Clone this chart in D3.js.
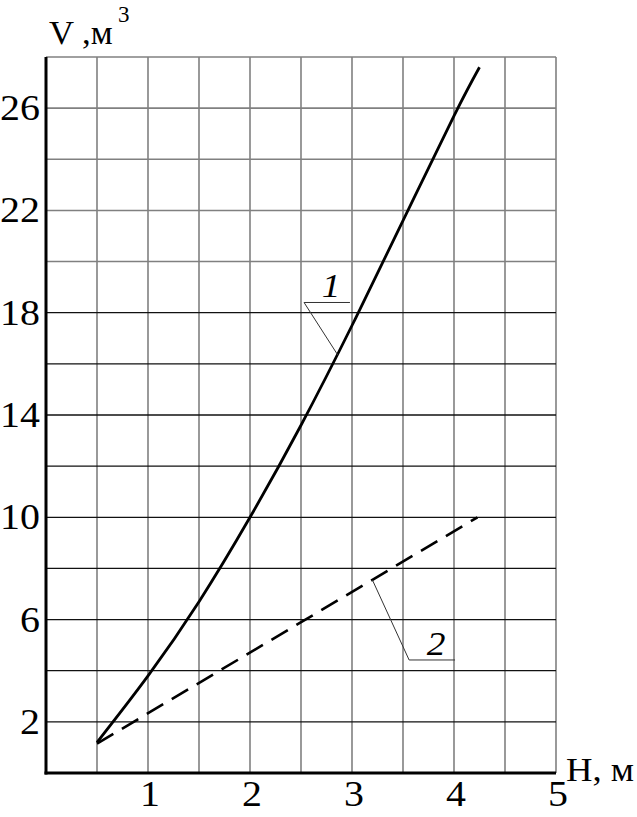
<!DOCTYPE html>
<html><head><meta charset="utf-8">
<script src="https://cdn.jsdelivr.net/npm/d3@7/dist/d3.min.js"></script>
<style>body{margin:0;background:#fff}svg{display:block}</style>
</head><body>
<svg id="c" width="637" height="817"></svg>
<script>
// Curve 1 (solid)
const h1 = [0.5, 1.0, 1.5, 2.0, 2.5, 3.0, 3.5, 4.0, 4.25];
const v1 = [1.2, 3.8, 6.7, 10.0, 13.6, 17.5, 21.6, 25.7, 27.6];
// Line 2 (dashed)
const h2 = [0.5, 4.23];
const v2 = [1.15, 10.0];
// Ticks
const xTicks = [1, 2, 3, 4, 5];
const yTicks = [2, 6, 10, 14, 18, 22, 26];
const xGrid = [0.5, 1, 1.5, 2, 2.5, 3, 3.5, 4, 4.5, 5];
const yGrid = [2, 4, 6, 8, 10, 12, 14, 16, 18, 20, 22, 24, 26, 28];
// Callouts: [label, anchorH, anchorV, elbowH, elbowV, endH]
const callouts = [
  ["1", 2.86, 16.35, 2.53, 18.4, 2.98],
  ["2", 3.2, 7.55, 3.56, 4.42, 4.01]
];

const svg = d3.select("#c");
const x = d3.scaleLinear().domain([0, 5]).range([46, 556]);
const y = d3.scaleLinear().domain([0, 28]).range([773, 57]);
const font = "'Liberation Serif','Times New Roman',serif";
const sx = 1.14;

// grid
svg.append("g").selectAll("line").data(xGrid).join("line")
  .attr("x1", d => x(d)).attr("x2", d => x(d))
  .attr("y1", y(0)).attr("y2", y(28))
  .attr("stroke", "#808080").attr("stroke-width", 1.6);
svg.append("g").selectAll("line").data(yGrid).join("line")
  .attr("x1", x(0)).attr("x2", x(5))
  .attr("y1", d => y(d)).attr("y2", d => y(d))
  .attr("stroke", d => d >= 20 ? "#808080" : "#111")
  .attr("stroke-width", d => d >= 20 ? 1.6 : 1.3);

// axes
svg.append("line").attr("x1", x(0)).attr("x2", x(0)).attr("y1", y(0) + 1.5).attr("y2", y(28))
  .attr("stroke", "#000").attr("stroke-width", 3);
svg.append("line").attr("x1", x(0) - 1.5).attr("x2", x(5)).attr("y1", y(0)).attr("y2", y(0))
  .attr("stroke", "#000").attr("stroke-width", 3);

// tick labels
svg.append("g").selectAll("text").data(yTicks).join("text")
  .attr("transform", d => `translate(${x(0) - 6},${y(d) + 12}) scale(${sx},1)`)
  .attr("text-anchor", "end").attr("font-family", font).attr("font-size", 35)
  .text(d => d);
svg.append("g").selectAll("text").data(xTicks).join("text")
  .attr("transform", d => `translate(${x(d) + 2},806) scale(${sx},1)`)
  .attr("text-anchor", "middle").attr("font-family", font).attr("font-size", 35)
  .text(d => d);

// axis titles
svg.append("text").attr("transform", `translate(49,44) scale(1.02,1)`).attr("font-family", font).attr("font-size", 34).text("V ,м");
svg.append("text").attr("x", 118).attr("y", 22).attr("font-family", font).attr("font-size", 23).text("3");
svg.append("text").attr("transform", `translate(566,781) scale(1.08,1)`).attr("font-family", font).attr("font-size", 34).text("H, м");

// curves
svg.append("path").datum(h1.map((h, i) => [h, v1[i]]))
  .attr("d", d3.line().x(d => x(d[0])).y(d => y(d[1])).curve(d3.curveNatural))
  .attr("fill", "none").attr("stroke", "#000").attr("stroke-width", 2.8);
svg.append("path").datum(h2.map((h, i) => [h, v2[i]]))
  .attr("d", d3.line().x(d => x(d[0])).y(d => y(d[1])))
  .attr("fill", "none").attr("stroke", "#000").attr("stroke-width", 2.6)
  .attr("stroke-dasharray", "19,10");

// callouts
callouts.forEach(([lab, ah, av, eh, ev, endh]) => {
  svg.append("polyline")
    .attr("points", [[x(ah), y(av)], [x(eh), y(ev)], [x(endh), y(ev)]].map(p => p.join(",")).join(" "))
    .attr("fill", "none").attr("stroke", "#333").attr("stroke-width", 1);
  svg.append("text").attr("transform", `translate(${(x(eh) + x(endh)) / 2 + 4},${y(ev) - 5}) scale(1.1,1)`)
    .attr("text-anchor", "middle").attr("font-family", font).attr("font-style", "italic")
    .attr("font-size", 34).text(lab);
});
</script>
</body></html>
